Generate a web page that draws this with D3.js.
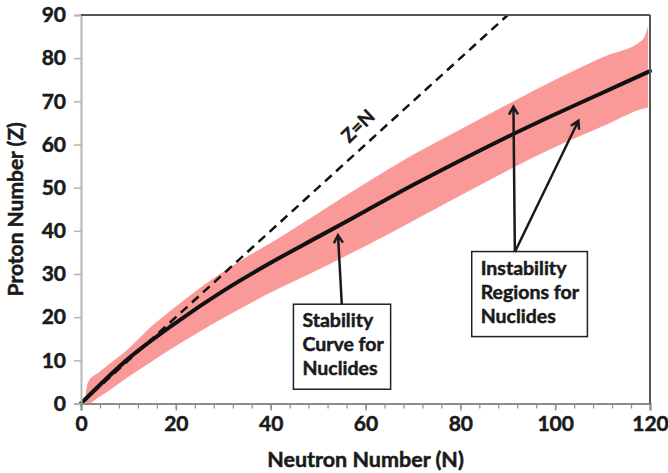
<!DOCTYPE html>
<html>
<head>
<meta charset="utf-8">
<script src="https://cdn.jsdelivr.net/npm/d3@7"></script>
<style>
  body { margin: 0; background: #fff; }
  text { font-family: Lato, "Open Sans", sans-serif; font-weight: bold; fill: #1a1a1a; stroke: #1a1a1a; stroke-width: 0.5px; }
</style>
</head>
<body>
<script>
// stability curve (Z vs N)
const neutrons = [0, 10, 20, 30, 40, 50, 60, 70, 80, 90, 100, 110, 120]
const stableZ = [0, 10.4, 18.7, 26.1, 32.6, 38.6, 44.6, 50.6, 56.3, 61.8, 67.0, 72.0, 77]
// instability band around it
const bandN = [1, 1.5, 4, 10, 15, 20, 25, 30, 35, 40, 50, 60, 70, 80, 90, 100, 110, 118.5, 119.6]
const bandUpper = [2.5, 5, 7.4, 12.7, 18.0, 22.5, 26.7, 30.5, 34.0, 37.2, 44.1, 51, 57.6, 63.5, 69.3, 75.0, 80.2, 84.3, 87.5]
const bandLower = [0, 0, 1.6, 6.2, 9.8, 13.3, 16.6, 19.8, 22.8, 25.7, 31, 36.5, 42.3, 48.2, 54, 59.4, 64.2, 68.3, 68.6]
// Z = N reference line
const diagN = [0, 90]
// ticks
const xTicks = [0, 20, 40, 60, 80, 100, 120]
const xMinor = d3.range(0, 121, 4)
const yTicks = [0, 10, 20, 30, 40, 50, 60, 70, 80, 90]

const width = 668
const height = 473

const svg = d3.select('body').append('svg')
  .attr('width', width)
  .attr('height', height)

const x = d3.scaleLinear().domain([0, 120]).range([81, 650])
const y = d3.scaleLinear().domain([0, 90]).range([403.5, 15])

// band
const band = bandN.map((n, i) => ({ n: n, lo: bandLower[i], hi: bandUpper[i] }))
svg.append('path')
  .datum(band)
  .attr('fill', '#f99a99')
  .attr('d', d3.area()
    .x(d => x(d.n))
    .y0(d => y(d.lo))
    .y1(d => y(d.hi))
    .curve(d3.curveMonotoneX))

// Z=N dashed
svg.append('path')
  .datum(diagN)
  .attr('fill', 'none')
  .attr('stroke', '#111')
  .attr('stroke-width', 2.5)
  .attr('stroke-dasharray', '9,6')
  .attr('d', d3.line().x(d => x(d)).y(d => y(d)))

// stability curve
svg.append('path')
  .datum(neutrons.map((n, i) => [n, stableZ[i]]))
  .attr('fill', 'none')
  .attr('stroke', '#111')
  .attr('stroke-width', 4)
  .attr('stroke-linecap', 'round')
  .attr('d', d3.line().x(d => x(d[0])).y(d => y(d[1])).curve(d3.curveCatmullRom))

// axes
const yAxis = svg.append('g')
  .attr('transform', 'translate(' + x(0) + ',0)')
  .call(d3.axisLeft(y).tickValues(yTicks).tickSize(7).tickPadding(8))
yAxis.select('.domain').attr('stroke', '#b5b5b5').attr('stroke-width', 2)
yAxis.selectAll('.tick line').attr('stroke', '#b5b5b5').attr('stroke-width', 1.5)
yAxis.selectAll('.tick text').style('font-size', '21px')

const xMinorAxis = svg.append('g')
  .attr('transform', 'translate(0,' + y(0) + ')')
  .call(d3.axisBottom(x).tickValues(xMinor).tickSize(5).tickFormat(''))
xMinorAxis.select('.domain').remove()
xMinorAxis.selectAll('.tick line').attr('stroke', '#8c8c8c').attr('stroke-width', 1.2)

const xAxis = svg.append('g')
  .attr('transform', 'translate(0,' + y(0) + ')')
  .call(d3.axisBottom(x).tickValues(xTicks).tickSize(7).tickPadding(6))
xAxis.select('.domain').attr('stroke', '#8c8c8c').attr('stroke-width', 2)
xAxis.selectAll('.tick line').attr('stroke', '#8c8c8c').attr('stroke-width', 1.5)
xAxis.selectAll('.tick text').style('font-size', '21px')

// top and right frame
svg.append('line')
  .attr('x1', x(0)).attr('x2', x(120)).attr('y1', y(90)).attr('y2', y(90))
  .attr('stroke', '#555').attr('stroke-width', 2)
svg.append('line')
  .attr('x1', x(120)).attr('x2', x(120)).attr('y1', y(90)).attr('y2', y(0))
  .attr('stroke', '#555').attr('stroke-width', 2)

// axis titles
svg.append('text')
  .attr('x', (x(0) + x(120)) / 2)
  .attr('y', 467)
  .attr('text-anchor', 'middle')
  .style('font-size', '21.5px')
  .text('Neutron Number (N)')
svg.append('text')
  .attr('transform', 'translate(23,' + (y(0) + y(90)) / 2 + ') rotate(-90)')
  .attr('text-anchor', 'middle')
  .style('font-size', '21px')
  .text('Proton Number (Z)')

// Z=N label
svg.append('text')
  .attr('transform', 'translate(' + x(58.4) + ',' + y(64.3) + ') rotate(-44)')
  .attr('text-anchor', 'middle')
  .attr('dy', '0.35em')
  .style('font-size', '19px')
  .text('Z=N')

// annotation boxes
const notes = [
  { lines: ['Stability', 'Curve for', 'Nuclides'], n0: 44.8, n1: 65.3, z0: 23.0, z1: 3.3 },
  { lines: ['Instability', 'Regions for', 'Nuclides'], n0: 82.4, n1: 106.8, z0: 35.2, z1: 15.5 }
]
notes.forEach(b => {
  svg.append('rect')
    .attr('x', x(b.n0)).attr('y', y(b.z0))
    .attr('width', x(b.n1) - x(b.n0)).attr('height', y(b.z1) - y(b.z0))
    .attr('fill', '#fff').attr('stroke', '#222').attr('stroke-width', 1.5)
  const t = svg.append('text')
    .attr('x', x(b.n0) + 9)
    .attr('y', y(b.z0) + 23)
    .style('font-size', '19.5px')
  b.lines.forEach((l, i) => {
    t.append('tspan').attr('x', x(b.n0) + 9).attr('dy', i === 0 ? 0 : 24).text(l)
  })
})

// arrows (tail -> tip, data coords)
const arrows = [
  { from: [55.0, 23.0], to: [54.2, 39.0] },
  { from: [91.5, 35.1], to: [91.2, 68.75] },
  { from: [91.5, 35.1], to: [104.9, 65.5] }
]
arrows.forEach(a => {
  const x1 = x(a.from[0]), y1 = y(a.from[1]), x2 = x(a.to[0]), y2 = y(a.to[1])
  const ang = Math.atan2(y2 - y1, x2 - x1)
  const len = 9, spread = Math.PI / 6
  const p = d3.path()
  p.moveTo(x1, y1); p.lineTo(x2, y2)
  p.moveTo(x2 - len * Math.cos(ang - spread), y2 - len * Math.sin(ang - spread))
  p.lineTo(x2, y2)
  p.lineTo(x2 - len * Math.cos(ang + spread), y2 - len * Math.sin(ang + spread))
  svg.append('path')
    .attr('d', p.toString())
    .attr('fill', 'none')
    .attr('stroke', '#1a1a1a')
    .attr('stroke-width', 2.5)
    .attr('stroke-linejoin', 'miter')
})
</script>
</body>
</html>
